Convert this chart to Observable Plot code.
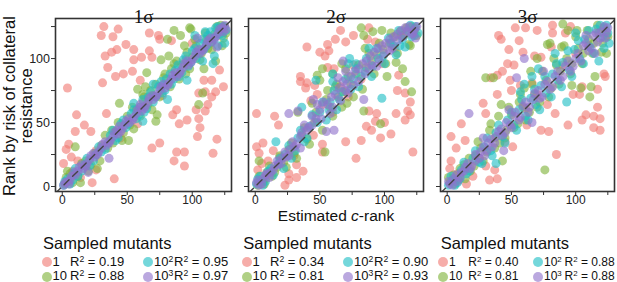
<!DOCTYPE html>
<html><head><meta charset="utf-8">
<script src="https://cdn.jsdelivr.net/npm/d3@7"></script>
<script src="https://cdn.jsdelivr.net/npm/@observablehq/plot@0.6"></script>
<style>
body{margin:0;background:#fff;font-family:"Liberation Sans",Arial,Helvetica,sans-serif;color:#111;}
#root{position:relative;width:617px;height:282px;overflow:hidden;background:#fff;}
.panel{position:absolute;top:0;}
.abs{position:absolute;white-space:nowrap;}
.ylab{font-size:16.5px;line-height:16.5px;text-align:center;width:220px;transform:translate(-50%,-50%) rotate(-90deg);}
.xlab{font-size:15.5px;line-height:11px;transform:translateX(-50%);}
.ltitle{font-size:16.5px;line-height:16.5px;}
.ltext{line-height:12px;}
.ltext sup{font-size:0.66em;line-height:0;vertical-align:0.5em;}
.ldot{position:absolute;width:10px;height:10px;border-radius:50%;}
</style></head><body><div id="root"></div>
<script>
// ---- data ----
const panelTitles = ["1σ", "2σ", "3σ"];
const sampleLabels = ["1", "10", "10<sup>2</sup>", "10<sup>3</sup>"];
const r2_1sigma = ["0.19", "0.88", "0.95", "0.97"];
const r2_2sigma = ["0.34", "0.81", "0.90", "0.93"];
const r2_3sigma = ["0.40", "0.81", "0.88", "0.88"];
const xTicks = [0, 25, 50, 75, 100, 125];
const yTicks = [0, 25, 50, 75, 100, 125];
const tickLabels = [0, 50, 100];

// 1 sigma
const s1_n1 = [[32,125],[30,118],[39,117],[43,123],[67,120],[74,118],[75,115],[84,114],[42,107],[38,105],[33,102],[49,111],[55,107],[55,99],[61,101],[67,106],[69,101],[35,93],[47,88],[41,86],[54,90],[31,81],[4,77],[60,83],[11,56],[17,48],[10,43],[22,43],[5,33],[3,29],[7,23],[1,18],[40,6],[34,57],[69,30],[75,34],[88,27],[94,27],[86,20],[94,16],[116,26],[119,37],[104,39],[106,46],[105,53],[103,60],[110,59],[112,64],[115,70],[105,73],[110,74],[109,83],[115,83],[121,91],[124,78],[118,74],[85,56],[90,49],[96,52],[88,60],[26,13],[8,12],[14,7],[23,3],[18,16],[12,20],[26,28],[45,38],[58,49],[77,71],[95,99],[100,112],[113,115],[122,121],[3,3],[62,66]];
const s1_n10 = [[86,122],[81,115],[91,118],[98,124],[76,99],[82,102],[65,89],[58,76],[62,72],[44,65],[69,60],[73,56],[72,51],[108,73],[105,64],[118,98],[109,92],[10,31],[3,7],[14,3],[27,14],[46,36],[41,43],[2,2],[6,10],[12,8],[18,20],[22,17],[30,32],[35,30],[38,44],[50,55],[52,48],[57,60],[63,70],[68,75],[72,80],[78,85],[84,92],[88,98],[92,95],[96,105],[100,101],[103,110],[107,104],[111,115],[114,112],[117,119],[121,123],[124,116],[112,108],[95,88],[122,126],[125,125],[51,36],[99,123],[4,12],[8,3],[15,18],[20,12],[25,26],[29,20],[33,40],[39,34],[43,50],[47,42],[54,62],[60,55],[66,64],[70,71],[75,70],[79,88],[83,78],[86,96],[90,84],[94,110],[98,92],[102,115],[106,99],[110,120],[115,107],[119,125],[123,110],[126,120],[55,45],[64,78]];
const s1_n100 = [[1,1],[4,6],[8,5],[10,14],[15,12],[19,22],[24,20],[28,31],[33,29],[37,40],[41,36],[45,49],[49,46],[53,57],[57,53],[60,62],[63,58],[66,70],[70,66],[74,78],[77,73],[80,84],[84,80],[87,91],[90,86],[93,99],[97,94],[100,106],[103,100],[106,112],[109,107],[112,118],[115,113],[118,124],[121,119],[124,125],[126,122],[62,51],[81,68],[96,83],[120,110],[117,102],[110,121],[102,118],[70,80],[55,65],[77,79],[2,4],[6,2],[9,10],[12,8],[17,17],[21,16],[26,25],[30,27],[35,34],[39,44],[43,38],[47,52],[51,49],[55,60],[59,56],[62,68],[65,61],[68,74],[72,70],[76,82],[79,75],[83,88],[86,84],[89,95],[92,89],[95,102],[99,97],[102,108],[105,104],[108,115],[111,110],[114,121],[117,116],[120,125],[123,118],[125,112],[116,96],[108,98]];
const s1_n1000 = [[2,3],[5,2],[7,8],[10,9],[13,15],[16,14],[19,18],[22,24],[25,23],[28,27],[31,33],[34,32],[37,36],[40,42],[43,41],[46,45],[49,51],[52,50],[55,54],[58,60],[61,59],[64,63],[67,69],[70,68],[73,72],[76,78],[79,77],[82,81],[85,87],[88,86],[91,90],[94,96],[97,95],[100,99],[103,105],[106,104],[109,108],[112,114],[115,113],[118,117],[121,123],[124,121],[125,126],[20,11],[36,22],[60,64],[44,47],[1,1],[4,4],[6,5],[9,11],[12,12],[15,17],[18,16],[21,21],[24,26],[27,25],[30,30],[33,35],[36,34],[39,39],[42,44],[45,43],[48,48],[51,53],[54,52],[57,57],[60,62],[63,61],[66,66],[69,71],[72,70],[75,75],[78,80],[81,79],[84,84],[87,89],[90,88],[93,93],[96,98],[99,97],[102,102],[105,107],[108,106],[111,111],[114,116],[117,115],[120,120],[123,124],[126,123],[119,109],[104,116]];

// 2 sigma
const s2_n1 = [[66,122],[62,115],[56,111],[57,106],[40,109],[50,105],[54,102],[70,113],[76,118],[88,124],[87,115],[93,113],[56,93],[61,92],[35,86],[35,82],[40,81],[39,77],[46,79],[48,72],[43,67],[52,64],[66,78],[70,74],[1,57],[15,55],[18,48],[52,33],[52,27],[70,35],[78,22],[82,36],[86,47],[90,44],[93,51],[97,38],[105,41],[100,50],[109,57],[116,52],[120,56],[118,59],[120,66],[110,75],[116,73],[111,87],[122,27],[88,59],[94,57],[1,31],[6,34],[3,26],[5,18],[2,13],[19,23],[32,17],[37,12],[26,5],[32,7],[23,1],[26,10],[10,20],[14,28],[8,6],[45,40],[60,58],[72,70],[82,84],[98,96],[108,108],[113,118],[124,124],[76,95],[30,24]];
const s2_n10 = [[82,124],[84,118],[91,121],[98,122],[67,96],[50,83],[62,78],[56,75],[44,65],[71,65],[84,59],[97,49],[102,86],[114,92],[116,82],[121,74],[54,27],[3,20],[33,58],[2,1],[6,4],[9,11],[13,8],[17,15],[22,19],[26,29],[30,26],[36,40],[40,37],[46,50],[58,62],[64,70],[68,74],[74,80],[78,88],[86,93],[90,98],[94,103],[99,107],[104,112],[108,117],[112,121],[117,124],[121,125],[125,118],[119,111],[109,97],[60,88],[48,87],[52,92],[3,8],[7,2],[11,16],[15,11],[19,24],[24,15],[28,34],[32,22],[38,46],[42,33],[47,58],[52,44],[55,68],[60,55],[63,80],[67,62],[72,86],[76,70],[80,95],[83,76],[88,104],[92,88],[96,112],[101,96],[105,120],[110,104],[115,118],[120,110],[123,123],[85,108],[70,92]];
const s2_n100 = [[1,2],[4,8],[8,4],[12,14],[16,35],[18,18],[23,25],[28,22],[33,38],[38,35],[42,47],[47,83],[50,58],[55,52],[58,66],[63,60],[67,74],[73,100],[76,84],[80,78],[85,90],[90,86],[95,100],[98,69],[100,96],[105,112],[109,103],[112,110],[116,109],[118,122],[121,117],[124,125],[126,120],[88,108],[78,96],[36,62],[60,82],[2,6],[6,1],[10,12],[14,9],[19,22],[22,14],[26,32],[31,28],[35,44],[40,38],[44,56],[48,50],[52,66],[57,60],[61,75],[65,68],[70,84],[74,76],[78,92],[82,86],[86,100],[91,94],[94,108],[99,102],[103,116],[107,110],[111,122],[114,115],[120,126],[123,118],[60,88],[72,96]];
const s2_n1000 = [[1,3],[3,1],[6,6],[9,10],[12,11],[15,16],[18,17],[21,22],[24,23],[27,29],[30,31],[26,57],[33,59],[35,30],[36,42],[40,44],[44,48],[48,64],[51,53],[55,43],[58,57],[61,44],[64,85],[66,67],[70,90],[70,75],[72,73],[76,79],[80,82],[84,68],[85,88],[88,92],[94,94],[96,99],[100,104],[104,106],[106,108],[110,114],[114,117],[118,121],[121,119],[123,122],[125,125],[45,68],[68,98],[2,5],[5,2],[8,9],[11,7],[14,13],[17,20],[20,18],[23,27],[26,24],[29,35],[32,33],[35,39],[38,48],[41,46],[44,55],[47,53],[50,60],[53,66],[56,64],[59,70],[62,72],[65,77],[68,82],[71,80],[74,86],[77,90],[80,92],[83,96],[86,98],[89,102],[92,105],[95,108],[98,110],[101,112],[104,115],[107,117],[110,119],[113,122],[116,124],[119,125],[122,120],[124,116],[90,95],[60,62]];

// 3 sigma
const s3_n1 = [[53,124],[61,124],[70,122],[82,126],[82,120],[81,109],[40,118],[42,115],[56,114],[48,107],[59,105],[68,102],[73,101],[47,96],[52,95],[43,90],[39,87],[34,85],[49,83],[57,79],[66,81],[70,72],[39,72],[50,75],[28,65],[30,57],[61,61],[78,64],[84,57],[73,44],[79,43],[11,49],[3,39],[7,30],[14,36],[51,31],[3,20],[2,14],[30,16],[37,13],[39,6],[33,5],[15,2],[85,25],[98,72],[103,72],[105,78],[117,62],[117,76],[123,86],[122,88],[105,52],[108,56],[114,55],[119,53],[114,46],[119,44],[94,48],[8,10],[20,8],[25,22],[45,35],[62,48],[90,95],[100,104],[110,110],[124,118],[92,120],[96,125]];
const s3_n10 = [[90,127],[94,122],[101,122],[89,109],[78,111],[70,100],[30,85],[36,85],[60,77],[97,79],[104,77],[112,78],[111,70],[115,86],[42,64],[34,49],[76,13],[43,20],[2,3],[5,9],[9,5],[13,17],[18,12],[22,24],[26,30],[31,27],[37,38],[41,34],[46,44],[50,56],[55,49],[59,62],[64,58],[68,72],[72,66],[77,83],[81,77],[85,95],[88,90],[93,100],[97,96],[102,108],[106,104],[110,115],[114,112],[118,120],[122,124],[125,117],[120,105],[65,90],[56,66],[1,7],[6,2],[10,14],[14,6],[17,22],[21,16],[24,35],[28,20],[33,44],[37,30],[40,55],[45,38],[48,62],[52,46],[57,72],[61,52],[66,80],[70,62],[74,90],[79,70],[83,100],[87,80],[91,110],[96,88],[100,117],[105,96],[109,122],[113,104],[117,126],[121,112],[124,104],[80,112]];
const s3_n100 = [[1,1],[4,5],[8,3],[11,13],[15,10],[20,22],[25,19],[29,31],[34,28],[38,42],[43,39],[47,52],[52,48],[56,60],[61,55],[65,69],[69,64],[73,79],[77,73],[82,88],[86,83],[90,97],[93,66],[95,91],[99,107],[103,100],[107,115],[111,109],[116,123],[118,98],[121,117],[124,126],[126,112],[100,120],[84,104],[66,86],[57,74],[38,18],[3,8],[6,1],[10,6],[13,19],[17,12],[22,28],[27,18],[31,38],[35,24],[40,48],[45,34],[50,58],[54,44],[58,68],[63,52],[68,76],[72,60],[76,86],[81,70],[85,96],[89,78],[94,106],[97,86],[102,114],[106,96],[110,122],[114,104],[119,126],[122,108],[125,120],[71,92],[60,80]];
const s3_n1000 = [[2,2],[5,6],[8,4],[11,11],[14,15],[17,57],[18,14],[22,20],[26,27],[29,24],[32,34],[35,31],[38,39],[42,45],[45,42],[49,48],[54,85],[52,55],[56,52],[60,100],[59,63],[63,58],[67,68],[71,75],[74,70],[78,82],[82,78],[86,90],[90,86],[94,98],[98,94],[102,104],[106,110],[110,106],[114,118],[117,113],[120,121],[123,116],[125,124],[28,38],[48,60],[75,90],[1,4],[4,1],[7,9],[10,7],[13,12],[16,18],[19,16],[22,25],[25,22],[28,31],[31,28],[34,37],[37,34],[40,43],[43,40],[46,50],[50,46],[53,58],[57,54],[61,66],[64,62],[68,73],[72,69],[76,80],[80,76],[84,86],[88,83],[92,94],[96,90],[100,100],[104,98],[108,112],[112,108],[116,120],[119,116],[122,125],[124,121],[115,104],[108,118],[44,28],[66,50]];

// ---- drawing ----
const colors = ["#F07A74", "#7FB33A", "#1FBFC5", "#8F72CC"];
const panels = [
  {title: panelTitles[0], series: [s1_n1, s1_n10, s1_n100, s1_n1000], r2: r2_1sigma},
  {title: panelTitles[1], series: [s2_n1, s2_n10, s2_n100, s2_n1000], r2: r2_2sigma},
  {title: panelTitles[2], series: [s3_n1, s3_n10, s3_n100, s3_n1000], r2: r2_3sigma}
];
const root = document.getElementById("root");
const panelLeft = [55, 248, 440];
const panelW = [176, 175, 174];
const mL = 40, mR = 3, mT = 18, mB = 39;
const xDom = [-5.2, 130.2], yDom = [-3.9, 131.3];
const FONT = '"Liberation Sans", Arial, Helvetica, sans-serif';
const OP = 0.62;

panels.forEach((p, i) => {
  const marks = [];
  p.series.forEach((s, k) => {
    marks.push(Plot.dot(s, {x: d => d[0], y: d => d[1], r: 4.5, fill: colors[k], fillOpacity: OP, stroke: "none", clip: true}));
  });
  marks.push(Plot.line([[xDom[0], xDom[0]], [xDom[1], xDom[1]]], {x: d => d[0], y: d => d[1], stroke: "#444", strokeWidth: 1.4, strokeDasharray: "7,5", clip: true}));
  marks.push(Plot.frame({stroke: "#333", strokeWidth: 1.6}));
  marks.push(Plot.axisX({ticks: xTicks, tickFormat: d => (tickLabels.includes(d) ? String(d) : ""), tickSize: 4, tickPadding: 0, label: null, stroke: "#333", fill: "#222", fontSize: 12}));
  marks.push(Plot.axisY({ticks: yTicks, tickFormat: d => (i === 0 && tickLabels.includes(d) ? String(d) : ""), tickSize: 4, tickPadding: 1.5, label: null, stroke: "#333", fill: "#222", fontSize: 12.5}));
  marks.push(Plot.text([p.title], {frameAnchor: "top", dy: -9, fontSize: 19, fontFamily: '"Liberation Serif", "Times New Roman", serif', fill: "#111"}));
  const chart = Plot.plot({
    width: mL + panelW[i] + mR, height: 230,
    marginLeft: mL, marginRight: mR, marginTop: mT, marginBottom: mB,
    x: {domain: xDom}, y: {domain: yDom},
    style: {fontFamily: FONT, background: "transparent", overflow: "visible"},
    marks
  });
  chart.classList.add("panel");
  chart.style.left = (panelLeft[i] - mL) + "px";
  root.appendChild(chart);
});

function addText(html, cls, left, top, size) {
  const d = document.createElement("div");
  d.className = "abs " + cls;
  d.innerHTML = html;
  d.style.left = left + "px";
  d.style.top = top + "px";
  if (size) d.style.fontSize = size + "px";
  root.appendChild(d);
  return d;
}
// axis titles
addText("Rank by risk of collateral<br>resistance", "ylab", 17, 106);
addText("Estimated <i>c</i>-rank", "xlab", 336, 209.8);

// legends
const legendLayout = [
  {title: 43, c1: 46.7, l1: 52.5, r1: 70, c2: 148.3, l2: 154, r2: 174, fs: 13},
  {title: 243.3, c1: 246.7, l1: 252.5, r1: 270, c2: 347.7, l2: 354, r2: 374, fs: 13},
  {title: 440.7, c1: 442.7, l1: 449, r1: 468.3, c2: 538, l2: 544, r2: 564.5, fs: 12}
];
const rowBase = [266, 280.7];
const rowDot = [261.7, 276.7];
panels.forEach((p, i) => {
  const L = legendLayout[i];
  addText("Sampled mutants", "ltitle", L.title, 235.3);
  const order = [[0, 2], [1, 3]];
  order.forEach((pair, row) => {
    pair.forEach((k, col) => {
      const cx = col === 0 ? L.c1 : L.c2;
      const lx = col === 0 ? L.l1 : L.l2;
      const rx = col === 0 ? L.r1 : L.r2;
      const dot = document.createElement("div");
      dot.className = "ldot";
      dot.style.left = (cx - 5) + "px";
      dot.style.top = (rowDot[row] - 5) + "px";
      dot.style.background = colors[k];
      dot.style.opacity = OP;
      root.appendChild(dot);
      const top = rowBase[row] - 10.3;
      addText(sampleLabels[k], "ltext", lx, top, L.fs);
      addText("R<sup>2</sup> = " + p.r2[k], "ltext", rx, top, L.fs);
    });
  });
});
</script>
</body></html>
